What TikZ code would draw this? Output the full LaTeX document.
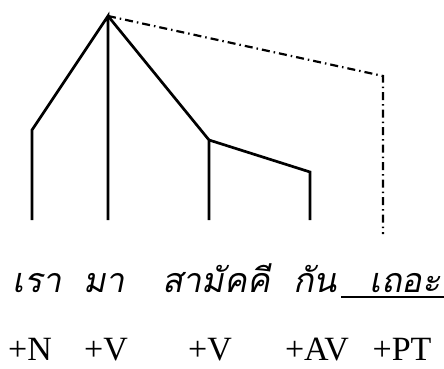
\documentclass[tikz,border=0pt]{standalone}
\usepackage{fontspec}
\setmainfont{Liberation Serif}
\newfontfamily\thaifont[Script=Thai,FakeSlant=0.2]{Loma}
\begin{document}
\begin{tikzpicture}[x=1pt,y=-1pt,
  branch/.style={line width=2.7pt,line join=miter},
  dotdash/.style={line width=2.2pt,dash pattern=on 8pt off 4pt on 1.5pt off 4pt},
  thaiword/.style={font=\thaifont\fontsize{34}{34}\selectfont,inner sep=0pt,anchor=base},
  tag/.style={font=\fontsize{34}{34}\selectfont,inner sep=0pt,anchor=base}]
\useasboundingbox (0,0) rectangle (444,369);
\coordinate (apex) at (108,16);
\coordinate (lbend) at (32,130);
\coordinate (lfoot) at (32,220);
\coordinate (mfoot) at (108,220);
\coordinate (rbend) at (209,140);
\coordinate (rfoot) at (209,220);
\coordinate (cbend) at (310,172);
\coordinate (cfoot) at (310,220);
\coordinate (dcorner) at (383,76);
\coordinate (dfoot) at (383,234);
\draw[branch] (lfoot) -- (lbend) -- (apex) -- (mfoot);
\draw[branch] (apex) -- (rbend) -- (rfoot);
\draw[branch] (rbend) -- (cbend) -- (cfoot);
\draw[dotdash] (apex) -- (dcorner) -- (dfoot);
\node[thaiword] (w1) at (37,292) {เรา};
\node[thaiword] (w2) at (104,292) {มา};
\node[thaiword] (w3) at (216,292) {สามัคคี};
\node[thaiword] (w4) at (315,292) {กัน};
\node[thaiword] (w5) at (405,292) {เถอะ};
\coordinate (ulA) at (341,297);
\coordinate (ulB) at (444,297);
\draw[line width=1.3pt] (ulA) -- (ulB);
\node[tag] (t1) at (30,360) {+N};
\node[tag] (t2) at (106,360) {+V};
\node[tag] (t3) at (210,360) {+V};
\node[tag] (t4) at (317,360) {+AV};
\node[tag] (t5) at (402,360) {+PT};
\end{tikzpicture}
\end{document}
